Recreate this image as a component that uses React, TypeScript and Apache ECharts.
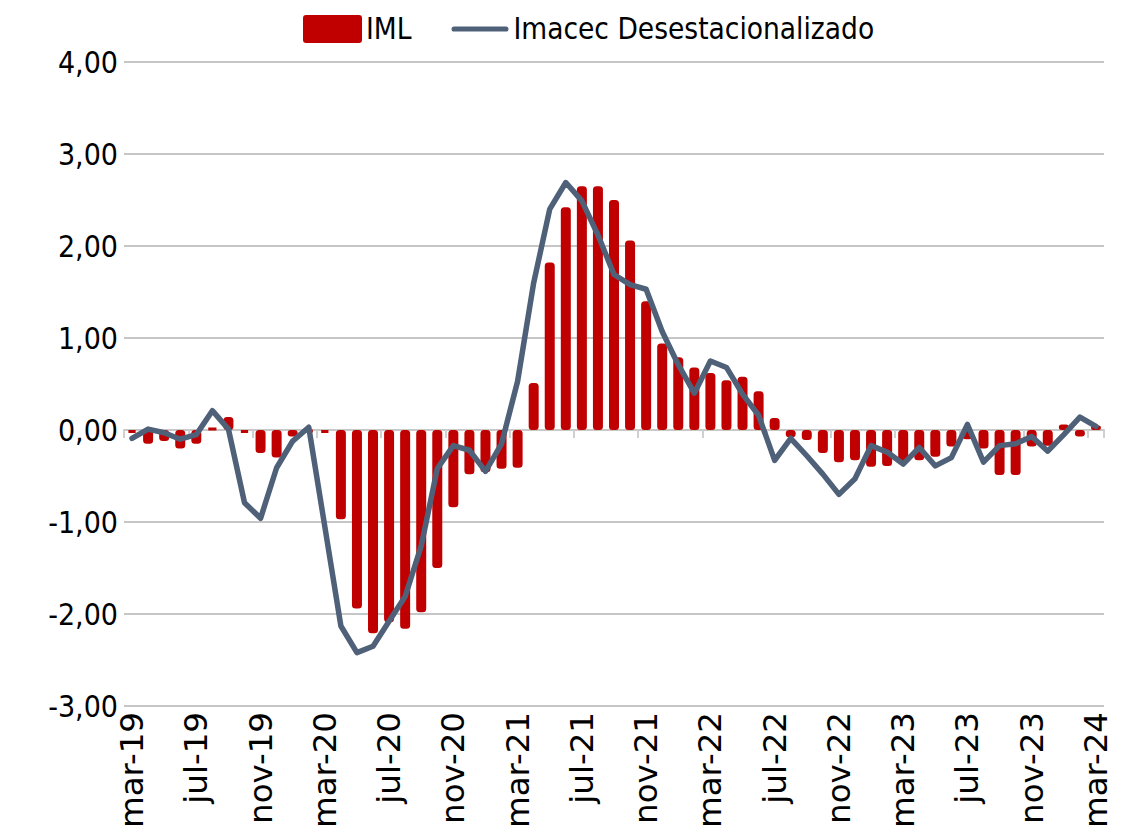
import React, { useEffect, useRef } from "react";
import * as echarts from "echarts";

const months: string[] = [
  "mar-19","abr-19","may-19","jun-19","jul-19","ago-19","sep-19","oct-19","nov-19","dic-19",
  "ene-20","feb-20","mar-20","abr-20","may-20","jun-20","jul-20","ago-20","sep-20","oct-20","nov-20","dic-20",
  "ene-21","feb-21","mar-21","abr-21","may-21","jun-21","jul-21","ago-21","sep-21","oct-21","nov-21","dic-21",
  "ene-22","feb-22","mar-22","abr-22","may-22","jun-22","jul-22","ago-22","sep-22","oct-22","nov-22","dic-22",
  "ene-23","feb-23","mar-23","abr-23","may-23","jun-23","jul-23","ago-23","sep-23","oct-23","nov-23","dic-23",
  "ene-24","feb-24","mar-24",
];

const imlValues: number[] = [
  -0.03, -0.15, -0.12, -0.20, -0.15, 0.02, 0.14, -0.03, -0.25, -0.30,
  -0.07, -0.02, -0.03, -0.97, -1.94, -2.21, -2.09, -2.16, -1.98, -1.50, -0.84, -0.48,
  -0.46, -0.42, -0.41, 0.51, 1.82, 2.42, 2.65, 2.65, 2.50, 2.06, 1.40, 0.94,
  0.79, 0.68, 0.62, 0.54, 0.58, 0.42, 0.13, -0.08, -0.11, -0.25, -0.35, -0.33,
  -0.40, -0.39, -0.36, -0.33, -0.29, -0.18, -0.10, -0.20, -0.49, -0.49, -0.18, -0.17,
  0.06, -0.07, 0.05,
];

const imacecValues: number[] = [
  -0.09, 0.01, -0.03, -0.10, -0.05, 0.21, 0.01, -0.79, -0.96, -0.41,
  -0.12, 0.03, -1.05, -2.13, -2.42, -2.35, -2.08, -1.81, -1.26, -0.42, -0.17, -0.22,
  -0.45, -0.15, 0.53, 1.60, 2.40, 2.69, 2.49, 2.12, 1.69, 1.58, 1.53, 1.07,
  0.71, 0.40, 0.75, 0.68, 0.39, 0.16, -0.33, -0.09, -0.28, -0.48, -0.70, -0.53,
  -0.17, -0.24, -0.37, -0.19, -0.39, -0.30, 0.06, -0.35, -0.17, -0.15, -0.07, -0.23,
  -0.05, 0.14, 0.04,
];

const seriesNames: string[] = ["IML", "Imacec Desestacionalizado"];

const NARROW = "'DejaVu Sans Condensed', 'Liberation Sans Narrow', 'Noto Sans', sans-serif";
const BAR_COLOR = "#c00000";
const LINE_COLOR = "#4f6079";

export default function App() {
  const ref = useRef<HTMLDivElement>(null);

  useEffect(() => {
    if (!ref.current) return;
    const chart = echarts.init(ref.current, undefined, { renderer: "svg" });
    chart.setOption({
      animation: false,
      backgroundColor: "#ffffff",
      legend: {
        left: 298,
        top: 9,
        itemWidth: 57,
        itemHeight: 26,
        itemGap: 40,
        textStyle: { fontFamily: NARROW, fontSize: 29.5, color: "#000000" },
        data: [
          { name: seriesNames[0], icon: "path://M2,0 L55,0 Q57,0 57,2 L57,24 Q57,26 55,26 L2,26 Q0,26 0,24 L0,2 Q0,0 2,0 Z" },
          { name: seriesNames[1], icon: "path://M2.5,0 L52.5,0 Q55,0 55,2.5 Q55,5 52.5,5 L2.5,5 Q0,5 0,2.5 Q0,0 2.5,0 Z" },
        ],
      },
      grid: { left: 124, right: 29, top: 62, bottom: 126, containLabel: false },
      xAxis: [
        {
          type: "category",
          data: months,
          position: "bottom",
          boundaryGap: true,
          axisLine: { show: false, onZero: false },
          axisTick: { show: false },
          splitLine: { show: false },
          axisLabel: {
            interval: 3,
            rotate: 90,
            margin: 6,
            fontFamily: "'DejaVu Sans', sans-serif",
            fontSize: 32.5,
            color: "#000000",
          },
        },
        {
          type: "category",
          data: months,
          position: "bottom",
          boundaryGap: true,
          axisLine: { show: true, onZero: true, lineStyle: { color: "#c8c8c8", width: 2 } },
          axisTick: { show: true, interval: 3, length: 8, lineStyle: { color: "#d0d0d0", width: 2 } },
          axisLabel: { show: false },
          splitLine: { show: false },
        },
      ],
      yAxis: {
        type: "value",
        min: -3,
        max: 4,
        interval: 1,
        axisLine: { show: false },
        axisTick: { show: false },
        splitLine: { show: true, lineStyle: { color: "#c6c6c6", width: 2 } },
        axisLabel: {
          margin: 6,
          fontFamily: NARROW,
          fontSize: 30,
          color: "#000000",
          formatter: (v: number) => v.toFixed(2).replace(".", ","),
        },
      },
      series: [
        {
          name: seriesNames[0],
          type: "bar",
          xAxisIndex: 0,
          data: imlValues,
          barWidth: 10,
          itemStyle: {
            color: BAR_COLOR,
            borderColor: BAR_COLOR,
            borderWidth: 3,
            borderRadius: 2,
          },
          z: 2,
        },
        {
          name: seriesNames[1],
          type: "line",
          xAxisIndex: 0,
          data: imacecValues,
          symbol: "none",
          showSymbol: false,
          smooth: false,
          lineStyle: { color: LINE_COLOR, width: 5.5, cap: "round", join: "round" },
          itemStyle: { color: LINE_COLOR },
          z: 3,
        },
      ],
    });
    return () => chart.dispose();
  }, []);

  return (
    <div
      ref={ref}
      style={{ position: "absolute", left: 0, top: 0, width: 1133, height: 832 }}
    />
  );
}
